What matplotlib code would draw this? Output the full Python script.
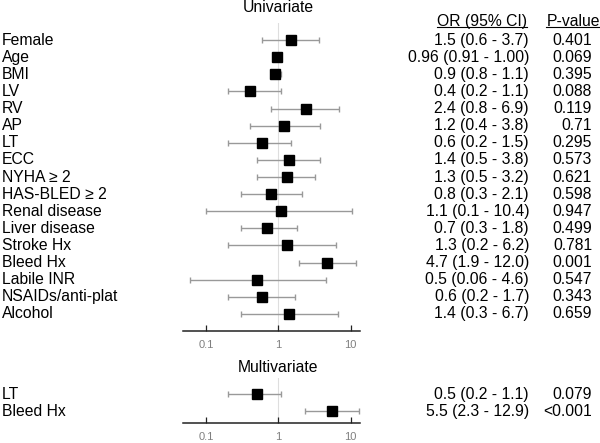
import matplotlib
matplotlib.use("Agg")
import matplotlib.pyplot as plt
from matplotlib.transforms import blended_transform_factory
from matplotlib.lines import Line2D

plt.rcParams['font.family'] = ['Liberation Sans', 'DejaVu Sans']

# === Data ===
uni_labels = ["Female", "Age", "BMI", "LV", "RV", "AP", "LT", "ECC", "NYHA \u2265 2",
              "HAS-BLED \u2265 2", "Renal disease", "Liver disease", "Stroke Hx",
              "Bleed Hx", "Labile INR", "NSAIDs/anti-plat", "Alcohol"]
uni_or = [1.5, 0.96, 0.9, 0.4, 2.4, 1.2, 0.6, 1.4, 1.3, 0.8, 1.1, 0.7, 1.3, 4.7, 0.5, 0.6, 1.4]
uni_lo = [0.6, 0.91, 0.8, 0.2, 0.8, 0.4, 0.2, 0.5, 0.5, 0.3, 0.1, 0.3, 0.2, 1.9, 0.06, 0.2, 0.3]
uni_hi = [3.7, 1.00, 1.1, 1.1, 6.9, 3.8, 1.5, 3.8, 3.2, 2.1, 10.4, 1.8, 6.2, 12.0, 4.6, 1.7, 6.7]
uni_ci_text = ["1.5 (0.6 - 3.7)", "0.96 (0.91 - 1.00)", "0.9 (0.8 - 1.1)", "0.4 (0.2 - 1.1)",
               "2.4 (0.8 - 6.9)", "1.2 (0.4 - 3.8)", "0.6 (0.2 - 1.5)", "1.4 (0.5 - 3.8)",
               "1.3 (0.5 - 3.2)", "0.8 (0.3 - 2.1)", "1.1 (0.1 - 10.4)", "0.7 (0.3 - 1.8)",
               "1.3 (0.2 - 6.2)", "4.7 (1.9 - 12.0)", "0.5 (0.06 - 4.6)", "0.6 (0.2 - 1.7)",
               "1.4 (0.3 - 6.7)"]
uni_p = ["0.401", "0.069", "0.395", "0.088", "0.119", "0.71", "0.295", "0.573", "0.621",
         "0.598", "0.947", "0.499", "0.781", "0.001", "0.547", "0.343", "0.659"]

multi_labels = ["LT", "Bleed Hx"]
multi_or = [0.5, 5.5]
multi_lo = [0.2, 2.3]
multi_hi = [1.1, 12.9]
multi_ci_text = ["0.5 (0.2 - 1.1)", "5.5 (2.3 - 12.9)"]
multi_p = ["0.079", "<0.001"]

tick_vals = [0.1, 1, 10]
tick_labels = ["0.1", "1", "10"]

W, H = 600, 443
fig = plt.figure(figsize=(6, 4.43), dpi=100)

FS = 11.3
ERR_COLOR = '#999999'


def forest(ax, labels, ors, los, his, ci_text, pvals, ylim):
    ys = list(range(len(labels)))
    xerr = [[o - l for o, l in zip(ors, los)], [h - o for o, h in zip(ors, his)]]
    ax.axvline(1, color='#dedede', lw=0.8, zorder=0)
    ax.errorbar(ors, ys, xerr=xerr, fmt='none', ecolor=ERR_COLOR, elinewidth=1.0,
                capsize=2.2, capthick=1.0, zorder=2)
    ax.plot(ors, ys, 's', color='black', markersize=6.8, zorder=3)
    ax.set_xscale('log')
    ax.set_xlim(0.0481, 13.45)
    ax.set_ylim(*ylim)
    ax.set_xticks(tick_vals)
    ax.set_xticklabels(tick_labels)
    ax.minorticks_off()
    ax.set_yticks([])
    for s in ['left', 'right', 'top']:
        ax.spines[s].set_visible(False)
    ax.spines['bottom'].set_linewidth(1.1)
    ax.spines['bottom'].set_color('#222222')
    ax.tick_params(axis='x', direction='in', length=4, width=0.9, color='#222222',
                   labelsize=8, labelcolor='#808080', pad=6.5)
    trans = blended_transform_factory(fig.transFigure, ax.transData)
    for y, lab, ci, p in zip(ys, labels, ci_text, pvals):
        fig.text(0.003, y, lab, transform=trans, ha='left', va='center', fontsize=FS)
        fig.text(529 / W, y, ci, transform=trans, ha='right', va='center', fontsize=FS)
        fig.text(592 / W, y, p, transform=trans, ha='right', va='center', fontsize=FS)
    return trans


ax1 = fig.add_axes([183 / W, 1 - 330.7 / H, 177 / W, (330.7 - 23) / H])
trans1 = forest(ax1, uni_labels, uni_or, uni_lo, uni_hi, uni_ci_text, uni_p, (16.98, -1.0))

ax2 = fig.add_axes([183 / W, 1 - 423.3 / H, 177 / W, (423.3 - 378) / H])
forest(ax2, multi_labels, multi_or, multi_lo, multi_hi, multi_ci_text, multi_p, (1.7, -0.95))

# titles
fig.text(278 / W, 1 - 7 / H, "Univariate", ha='center', va='center', fontsize=FS)
fig.text(278 / W, 1 - 367 / H, "Multivariate", ha='center', va='center', fontsize=FS)

# column headers (underlined)
h1 = fig.text(527 / W, -1.1, "OR (95% CI)", transform=trans1, ha='right', va='center', fontsize=FS)
h2 = fig.text(573 / W, -1.1, "P-value", transform=trans1, ha='center', va='center', fontsize=FS)
fig.canvas.draw()
for h in (h1, h2):
    bb = h.get_window_extent()
    yline = (bb.y0 + 1.5) / H
    fig.add_artist(Line2D([bb.x0 / W, bb.x1 / W], [yline, yline], color='black', lw=0.8,
                          transform=fig.transFigure))

fig.savefig("out.png", dpi=100)
